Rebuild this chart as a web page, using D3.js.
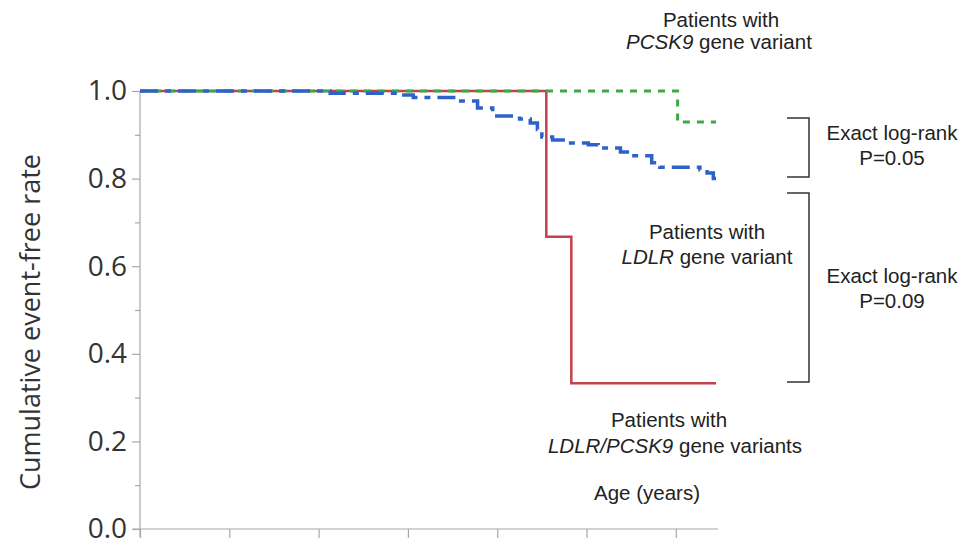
<!DOCTYPE html>
<html>
<head>
<meta charset="utf-8">
<script src="https://cdn.jsdelivr.net/npm/d3@7"></script>
<style>
  body { margin: 0; background: #fff; }
  svg { display: block; }
  .note { font-family: "Liberation Sans", Arial, sans-serif; font-size: 20.5px; fill: #222; }
</style>
</head>
<body>
<div id="chart"></div>
<script>
// age (years) at each step and survival after the step
const ldlrPcsk9Age = [0, 45.5, 48.3, 64.5];
const ldlrPcsk9Rate = [1.0, 0.667, 0.333, 0.333];

const pcsk9Age = [0, 60.2, 64.5];
const pcsk9Rate = [1.0, 0.929, 0.929];

const ldlrAge = [0, 21.3, 28.8, 30.6, 35.5, 37.8, 39.5, 42.5, 43.7, 44.5, 45.0, 46.2, 47.8,
                 50.2, 51.3, 53.8, 54.9, 57.3, 58.2, 62.7, 63.5, 64.2, 64.5];
const ldlrRate = [1.0, 0.995, 0.991, 0.985, 0.977, 0.961, 0.943, 0.936, 0.927, 0.912, 0.895, 0.888, 0.881,
                  0.877, 0.870, 0.861, 0.852, 0.836, 0.826, 0.820, 0.813, 0.800, 0.800];

const yTicks = [0, 0.2, 0.4, 0.6, 0.8, 1.0];
const yMinor = [0.1, 0.3, 0.5, 0.7, 0.9];
const xTicks = [0, 10, 20, 30, 40, 50, 60];

function Init() {
    const svg = d3.select("#chart").append("svg").attr("width", 974).attr("height", 542);

    const x = d3.scaleLinear().domain([0, 64.5]).range([140, 716]);
    const y = d3.scaleLinear().domain([0, 1]).range([529, 91]);

    // axes
    const gy = svg.append("g").attr("transform", "translate(140,0)")
        .call(d3.axisLeft(y).tickValues(yTicks).tickFormat(d3.format(".1f")).tickSize(8).tickPadding(5));
    gy.append("g").call(d3.axisLeft(y).tickValues(yMinor).tickFormat("").tickSize(5));
    gy.selectAll(".domain").remove();
    gy.append("line").attr("x1", 0).attr("x2", 0).attr("y1", y(1)).attr("y2", 537);

    const gx = svg.append("g").attr("transform", "translate(0,529)")
        .call(d3.axisBottom(x).tickValues(xTicks).tickFormat("").tickSize(9));
    gx.selectAll(".domain").remove();
    gx.append("line").attr("x1", 133).attr("x2", 718).attr("y1", 0).attr("y2", 0);

    svg.selectAll("line").attr("stroke", "#a8a8a8").attr("stroke-width", 1.2);
    gy.selectAll("text")
      .attr("font-family", "'Open Sans', sans-serif")
      .attr("font-size", 28)
      .attr("fill", "#333");

    svg.append("text")
      .attr("transform", "translate(40,322) rotate(-90)")
      .attr("text-anchor", "middle")
      .attr("font-family", "'Open Sans', sans-serif")
      .attr("font-size", 27)
      .attr("fill", "#333")
      .text("Cumulative  event-free rate");

    // survival curves
    const line = d3.line().x(d => x(d[0])).y(d => y(d[1])).curve(d3.curveStepAfter);
    const curves = [
        { age: ldlrPcsk9Age, rate: ldlrPcsk9Rate, color: "#c4414c", width: 2.5, dash: null },
        { age: pcsk9Age, rate: pcsk9Rate, color: "#3daa46", width: 3, dash: "7,7" },
        { age: ldlrAge, rate: ldlrRate, color: "#2f62c9", width: 3.5, dash: "18,7,6,7" }
    ];
    curves.forEach(c => {
        svg.append("path")
          .datum(d3.zip(c.age, c.rate))
          .attr("d", line)
          .attr("fill", "none")
          .attr("stroke", c.color)
          .attr("stroke-width", c.width)
          .attr("stroke-dasharray", c.dash);
    });

    // labels
    function note(xp, yp, parts, anchor) {
        const t = svg.append("text").attr("class", "note").attr("x", xp).attr("y", yp)
            .attr("text-anchor", anchor || "middle");
        parts.forEach(p => {
            t.append("tspan").attr("font-style", p[1] ? "italic" : null).text(p[0]);
        });
    }
    note(721, 27, [["Patients with", false]]);
    note(719, 49, [["PCSK9", true], [" gene variant", false]]);
    note(707, 239, [["Patients with", false]]);
    note(707, 264, [["LDLR", true], [" gene variant", false]]);
    note(669, 427, [["Patients with", false]]);
    note(675, 453, [["LDLR/PCSK9", true], [" gene variants", false]]);
    note(647, 500, [["Age (years)", false]]);
    note(892, 140, [["Exact log-rank", false]]);
    note(892, 165, [["P=0.05", false]]);
    note(892, 283, [["Exact log-rank", false]]);
    note(892, 308, [["P=0.09", false]]);

    // brackets
    const brackets = [[118, 177], [193, 382]];
    brackets.forEach(b => {
        svg.append("path")
          .attr("d", `M787,${b[0]}H809V${b[1]}H787`)
          .attr("fill", "none")
          .attr("stroke", "#333")
          .attr("stroke-width", 1.5);
    });
}

Init();
</script>
</body>
</html>
